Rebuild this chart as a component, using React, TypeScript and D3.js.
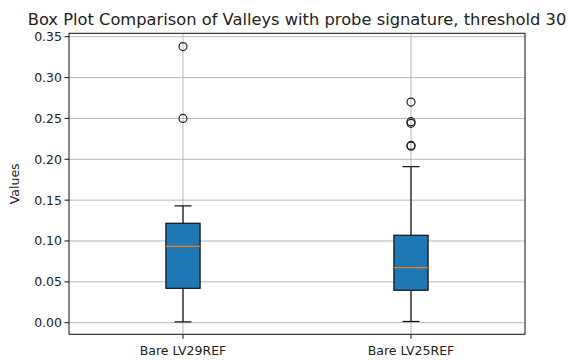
import React from "react";
import * as d3 from "d3";

const categories = ["Bare LV29REF", "Bare LV25REF"];
const whiskerLow = [0.001, 0.0015];
const q1 = [0.0421, 0.0397];
const median = [0.0935, 0.0673];
const q3 = [0.1217, 0.107];
const whiskerHigh = [0.143, 0.191];
const outliers = [
  [0.338, 0.25],
  [0.27, 0.246, 0.244, 0.217, 0.216],
];
const yTicks = [0, 0.05, 0.1, 0.15, 0.2, 0.25, 0.3, 0.35];
const title = "Box Plot Comparison of Valleys with probe signature, threshold 30";
const yLabel = "Values";

const W = 568, H = 360;
const L = 69, R = 525, T = 33.3, B = 334.3;

export default function App() {
  const x = d3.scaleLinear().domain([0.5, 2.5]).range([L, R]);
  const y = d3.scaleLinear().domain([-0.0142, 0.3542]).range([B, T]);
  const bw = x(1.075) - x(0.925);
  const capW = bw / 2;
  const font = "DejaVu Sans, sans-serif";
  return (
    <svg width={W} height={H} style={{ position: "absolute", left: 0, top: 0 }}>
      <rect width={W} height={H} fill="#fff" />
      {yTicks.map((t) => (
        <line key={"gy" + t} x1={L} x2={R} y1={y(t)} y2={y(t)} stroke="#b0b0b0" strokeWidth={0.9} />
      ))}
      {categories.map((c, i) => (
        <line key={"gx" + c} x1={x(i + 1)} x2={x(i + 1)} y1={T} y2={B} stroke="#b0b0b0" strokeWidth={0.9} />
      ))}
      {categories.map((c, i) => {
        const cx = x(i + 1);
        return (
          <g key={c}>
            <line x1={cx} x2={cx} y1={y(whiskerLow[i])} y2={y(q1[i])} stroke="#111" strokeWidth={1.2} />
            <line x1={cx} x2={cx} y1={y(q3[i])} y2={y(whiskerHigh[i])} stroke="#111" strokeWidth={1.2} />
            <line x1={cx - capW / 2} x2={cx + capW / 2} y1={y(whiskerLow[i])} y2={y(whiskerLow[i])} stroke="#111" strokeWidth={1.2} />
            <line x1={cx - capW / 2} x2={cx + capW / 2} y1={y(whiskerHigh[i])} y2={y(whiskerHigh[i])} stroke="#111" strokeWidth={1.2} />
            <rect x={cx - bw / 2} y={y(q3[i])} width={bw} height={y(q1[i]) - y(q3[i])} fill="#1f77b4" stroke="#111" strokeWidth={1.2} />
            <line x1={cx - bw / 2} x2={cx + bw / 2} y1={y(median[i])} y2={y(median[i])} stroke="#ff7f0e" strokeWidth={1.2} />
            {outliers[i].map((v, j) => (
              <circle key={j} cx={cx} cy={y(v)} r={4} fill="none" stroke="#222" strokeWidth={1.2} />
            ))}
          </g>
        );
      })}
      <rect x={L} y={T} width={R - L} height={B - T} fill="none" stroke="#111" strokeWidth={1} />
      {yTicks.map((t) => (
        <g key={"ty" + t}>
          <line x1={L - 4.5} x2={L} y1={y(t)} y2={y(t)} stroke="#111" strokeWidth={1} />
          <text x={L - 7} y={y(t)} dy="0.35em" textAnchor="end" fontFamily={font} fontSize={12.5} fill="#222">
            {t.toFixed(2)}
          </text>
        </g>
      ))}
      {categories.map((c, i) => (
        <g key={"tx" + c}>
          <line x1={x(i + 1)} x2={x(i + 1)} y1={B} y2={B + 4.5} stroke="#111" strokeWidth={1} />
          <text x={x(i + 1)} y={B + 21} textAnchor="middle" fontFamily={font} fontSize={12.5} fill="#222">
            {c}
          </text>
        </g>
      ))}
      <text transform={`translate(19,${(T + B) / 2}) rotate(-90)`} textAnchor="middle" fontFamily={font} fontSize={12.5} fill="#222">
        {yLabel}
      </text>
      <text x={(L + R) / 2} y={24.5} textAnchor="middle" fontFamily={font} fontSize={16.3} fill="#222">
        {title}
      </text>
    </svg>
  );
}
